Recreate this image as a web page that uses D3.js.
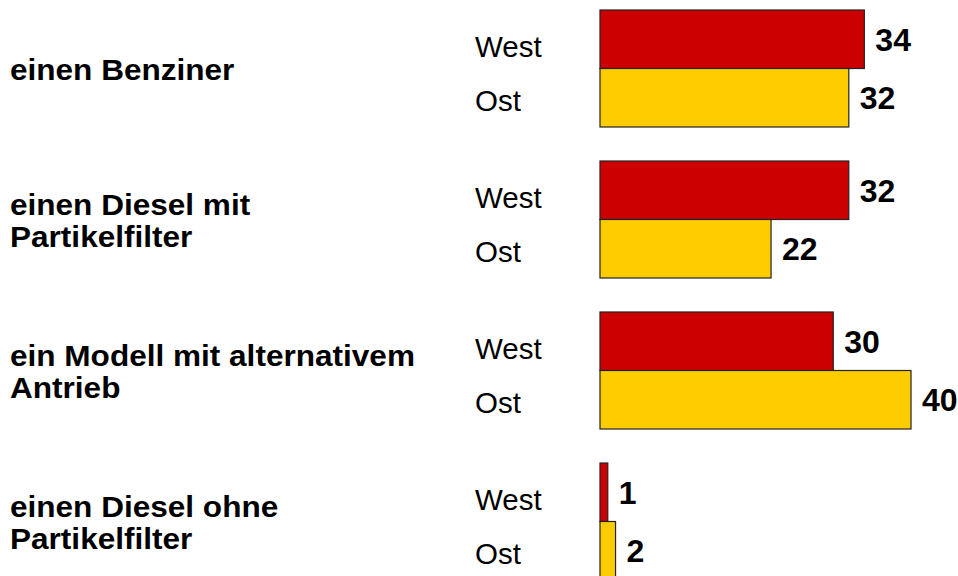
<!DOCTYPE html>
<html>
<head>
<meta charset="utf-8">
<script src="https://cdn.jsdelivr.net/npm/d3@7"></script>
<style>
  body { margin: 0; background: #fff; }
  svg { display: block; }
</style>
</head>
<body>
<div id="chart"></div>
<script>
// categories (label lines) and values
var categories = [
  ["einen Benziner"],
  ["einen Diesel mit", "Partikelfilter"],
  ["ein Modell mit alternativem", "Antrieb"],
  ["einen Diesel ohne", "Partikelfilter"]
];
var series = ["West", "Ost"];
var westValues = [34, 32, 30, 1];
var ostValues = [32, 22, 40, 2];

var width = 958, height = 576;
var colors = { West: "#cc0000", Ost: "#ffcc00" };
var font = "Liberation Sans, Arial, sans-serif";

var svg = d3.select("#chart")
  .append("svg")
  .attr("width", width)
  .attr("height", height);

var data = categories.map(function(c, i) {
  return { key: i, lines: c, West: westValues[i], Ost: ostValues[i] };
});

// group scale
var y0 = d3.scaleBand()
  .domain(data.map(d => d.key))
  .range([10, 580])
  .paddingInner(34 / 151)
  .paddingOuter(0);

// West / Ost inside a group
var y1 = d3.scaleBand()
  .domain(series)
  .range([0, y0.bandwidth()])
  .padding(0);

var x = d3.scaleLinear()
  .domain([0, 40])
  .range([600, 911]);

var groups = svg.selectAll("g.group")
  .data(data)
  .enter()
  .append("g")
  .attr("class", "group")
  .attr("transform", d => "translate(0," + y0(d.key) + ")");

// bars
groups.selectAll("rect")
  .data(d => series.map(s => ({ s: s, v: d[s] })))
  .enter()
  .append("rect")
  .attr("x", x(0))
  .attr("y", d => y1(d.s))
  .attr("width", d => x(d.v) - x(0))
  .attr("height", y1.bandwidth())
  .style("fill", d => colors[d.s])
  .style("stroke", "#222")
  .style("stroke-width", 1.2);

// value labels
groups.selectAll("text.value")
  .data(d => series.map(s => ({ s: s, v: d[s] })))
  .enter()
  .append("text")
  .attr("class", "value")
  .text(d => d.v)
  .attr("x", d => x(d.v) + 11)
  .attr("y", d => y1(d.s) + y1.bandwidth() / 2)
  .attr("dy", "0.36em")
  .attr("font-family", font)
  .attr("font-weight", "bold")
  .attr("font-size", "32px")
  .attr("fill", "#000");

// series labels
groups.selectAll("text.series")
  .data(series)
  .enter()
  .append("text")
  .attr("class", "series")
  .text(d => d)
  .attr("x", 475)
  .attr("y", d => d == "West" ? 36 : 90)
  .attr("dy", "0.36em")
  .attr("font-family", font)
  .attr("font-size", "29.5px")
  .attr("fill", "#000");

// category labels (original font runs a little wide, stretch slightly)
groups.each(function(d) {
  var g = d3.select(this);
  var n = d.lines.length;
  var lh = 32;
  var c = y0.bandwidth() / 2 + 1;
  d.lines.forEach(function(line, j) {
    g.append("text")
      .text(line)
      .attr("transform", "translate(10," + (c + (j - (n - 1) / 2) * lh) + ") scale(1.07,1)")
      .attr("dy", "0.36em")
      .attr("font-family", font)
      .attr("font-weight", "bold")
      .attr("font-size", "29.5px")
      .attr("fill", "#000");
  });
});
</script>
</body>
</html>
